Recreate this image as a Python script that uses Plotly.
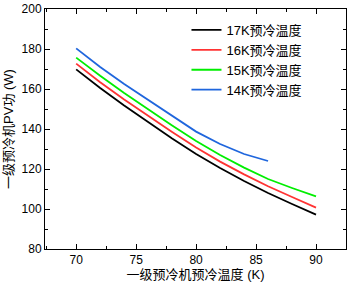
import plotly.graph_objects as go

temps = [70, 72, 74, 76, 78, 80, 82, 84, 86, 88, 90]
temps_14k = [70, 72, 74, 76, 78, 80, 82, 84, 86]
p_17k = [169.8, 160.5, 151.8, 143.5, 135.3, 127.5, 120.5, 114.0, 108.0, 102.5, 97.2]
p_16k = [172.7, 163.4, 154.7, 146.5, 138.5, 130.7, 123.7, 117.3, 111.4, 106.0, 100.7]
p_15k = [175.7, 166.6, 158.0, 149.8, 141.8, 134.0, 127.0, 120.7, 115.0, 110.5, 106.3]
p_14k = [180.3, 171.0, 162.5, 154.5, 146.5, 138.7, 132.5, 127.5, 124.0]
names = ["17K预冷温度", "16K预冷温度", "15K预冷温度", "14K预冷温度"]
colors = ["#000000", "#ff3333", "#00ee00", "#1f66dd"]

fig = go.Figure()
series = [(temps, p_17k), (temps, p_16k), (temps, p_15k), (temps_14k, p_14k)]
for (xs, ys), n, c in zip(series, names, colors):
    fig.add_trace(go.Scatter(x=xs, y=ys, mode="lines", name=n,
                             line=dict(color=c, width=1.8)))

font_family = "Liberation Sans, Noto Sans CJK SC, Arial, sans-serif"
axis_common = dict(
    showline=True, linecolor="black", linewidth=1, mirror="allticks",
    ticks="inside", ticklen=5, tickcolor="black", tickwidth=1,
    showgrid=False, zeroline=False,
    tickfont=dict(size=12, color="black", family=font_family),
)
fig.update_xaxes(range=[67.4, 92.5], tickvals=[70, 75, 80, 85, 90],
                 minor=dict(ticks="inside", ticklen=3, dtick=2.5, tick0=67.5, tickcolor="black"),
                 title=dict(text="一级预冷机预冷温度 (K)", font=dict(size=13, color="black", family=font_family), standoff=3),
                 **axis_common)
fig.update_yaxes(range=[80, 200], tickvals=[80, 100, 120, 140, 160, 180, 200],
                 minor=dict(ticks="inside", ticklen=3, dtick=10, tickcolor="black"),
                 title=dict(text="一级预冷机PV功 (W)", font=dict(size=13, color="black", family=font_family), standoff=5),
                 **axis_common)
fig.update_layout(
    width=349, height=283,
    margin=dict(l=45, r=2, t=7, b=34),
    paper_bgcolor="white", plot_bgcolor="white",
    font=dict(family=font_family, color="black"),
    legend=dict(x=0.47, y=0.975, xanchor="left", yanchor="top",
                bgcolor="rgba(0,0,0,0)", font=dict(size=13, family=font_family),
                itemwidth=30, tracegroupgap=0),
    showlegend=True,
)
fig.write_html("out.html", config={"displayModeBar": False},
               post_script="document.body.style.margin='0';document.body.style.overflow='hidden';")
